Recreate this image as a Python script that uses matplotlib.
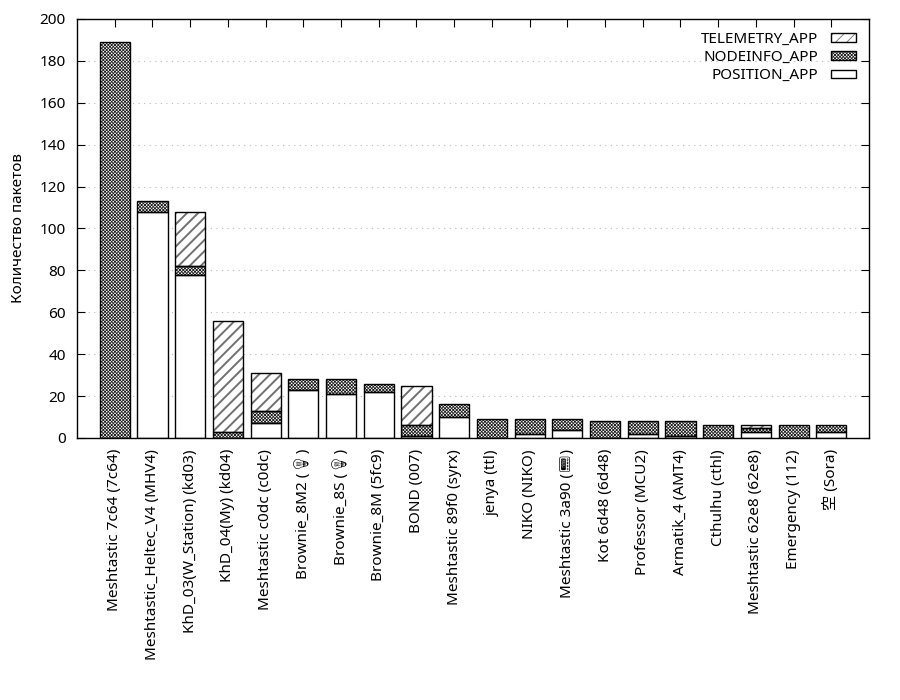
import matplotlib
matplotlib.use("Agg")
import matplotlib.pyplot as plt
from matplotlib.patches import Patch
from matplotlib.legend_handler import HandlerTuple
import numpy as np

plt.rcParams['font.family'] = ['Noto Sans', 'Noto Sans CJK JP', 'DejaVu Sans',
                               'Noto Emoji', 'Symbola', 'Noto Sans Symbols 2']
plt.rcParams['hatch.linewidth'] = 0.6

categories = [
    "Meshtastic 7c64 (7c64)",
    "Meshtastic_Heltec_V4 (MHV4)",
    "KhD_03(W_Station) (kd03)",
    "KhD_04(My) (kd04)",
    "Meshtastic c0dc (c0dc)",
    "Brownie_8M2 (💡)",
    "Brownie_8S (💡)",
    "Brownie_8M (5fc9)",
    "BOND (007)",
    "Meshtastic 89f0 (syrx)",
    "jenya (ttl)",
    "NIKO (NIKO)",
    "Meshtastic 3a90 (📟)",
    "Kot 6d48 (6d48)",
    "Professor (MCU2)",
    "Armatik_4 (AMT4)",
    "Cthulhu (cthl)",
    "Meshtastic 62e8 (62e8)",
    "Emergency (112)",
    "空 (Sora)",
]
position_app = [0, 108, 78, 0, 7, 23, 21, 22, 1, 10, 0, 2, 4, 0, 2, 1, 0, 3, 0, 3]
nodeinfo_app = [189, 5, 4, 3, 6, 5, 7, 4, 5, 6, 9, 7, 5, 8, 6, 7, 6, 2, 6, 3]
telemetry_app = [0, 0, 26, 53, 18, 0, 0, 0, 19, 0, 0, 0, 0, 0, 0, 0, 0, 1, 0, 0]
y_ticks = [0, 20, 40, 60, 80, 100, 120, 140, 160, 180, 200]

FS = 11
NODE_HATCH = 'xxxxxxxxxx'
TELE_HATCH = '///'
NODE_COL = '#222222'
TELE_COL = '#707070'

fig = plt.figure(figsize=(9, 7), dpi=100)
ax = fig.add_axes([0.0856, 0.3743, 0.88, 0.5986])

x = np.arange(len(categories))
pos = np.array(position_app)
node = np.array(nodeinfo_app)
tele = np.array(telemetry_app)
w = 0.8

def draw(vals, bottom, hatch, hatch_col, hlw):
    m = vals > 0
    if hatch:
        with plt.rc_context({'hatch.linewidth': hlw}):
            bars = ax.bar(x[m], vals[m], w, bottom=bottom[m], color='white', edgecolor=hatch_col,
                          hatch=hatch, linewidth=0, zorder=3)
            for p in bars.patches:
                if hasattr(p, 'set_hatch_linewidth'):
                    p.set_hatch_linewidth(hlw)
        ax.bar(x[m], vals[m], w, bottom=bottom[m], fill=False, edgecolor='black',
               linewidth=1.0, zorder=4)
    else:
        ax.bar(x[m], vals[m], w, bottom=bottom[m], color='white', edgecolor='black',
               linewidth=1.0, zorder=4)

zeros = np.zeros_like(pos)
draw(pos, zeros, None, None, None)
draw(node, pos, NODE_HATCH, NODE_COL, 0.6)
draw(tele, pos + node, TELE_HATCH, TELE_COL, 1.4)

ax.set_xlim(-1, len(categories))
ax.set_ylim(0, 200)
ax.set_yticks(y_ticks)
ax.set_xticks(x)
ax.set_xticklabels(categories, rotation=90, fontsize=FS)
ax.tick_params(axis='y', labelsize=FS, direction='in', right=True, length=6, pad=8)
ax.tick_params(axis='x', direction='in', top=True, length=6, pad=8)
ax.yaxis.grid(True, linestyle=(0, (1, 4)), color='#bbbbbb', linewidth=0.8, zorder=0)
ax.set_axisbelow(True)
ax.set_ylabel('Количество пакетов', fontsize=FS, labelpad=10)
for s in ax.spines.values():
    s.set_linewidth(1.0)
    s.set_zorder(5)

def hpatch(hatch, col, hlw):
    with plt.rc_context({'hatch.linewidth': hlw}):
        p = Patch(facecolor='white', edgecolor=col, hatch=hatch, linewidth=0)
    if hasattr(p, 'set_hatch_linewidth'):
        p.set_hatch_linewidth(hlw)
    return p

outline = lambda: Patch(facecolor='none', edgecolor='black', linewidth=1.0)
handles = [
    (hpatch(TELE_HATCH, TELE_COL, 1.4), outline()),
    (hpatch(NODE_HATCH, NODE_COL, 0.6), outline()),
    Patch(facecolor='white', edgecolor='black', linewidth=1.0),
]
leg = ax.legend(handles, ['TELEMETRY_APP', 'NODEINFO_APP', 'POSITION_APP'], loc='upper right',
                frameon=False, markerfirst=False, fontsize=FS, handlelength=1.65, handleheight=0.45,
                labelspacing=0.2, borderaxespad=0.45, handletextpad=0.8,
                handler_map={tuple: HandlerTuple(ndivide=1, pad=0)})

fig.savefig('out.png', dpi=100)
